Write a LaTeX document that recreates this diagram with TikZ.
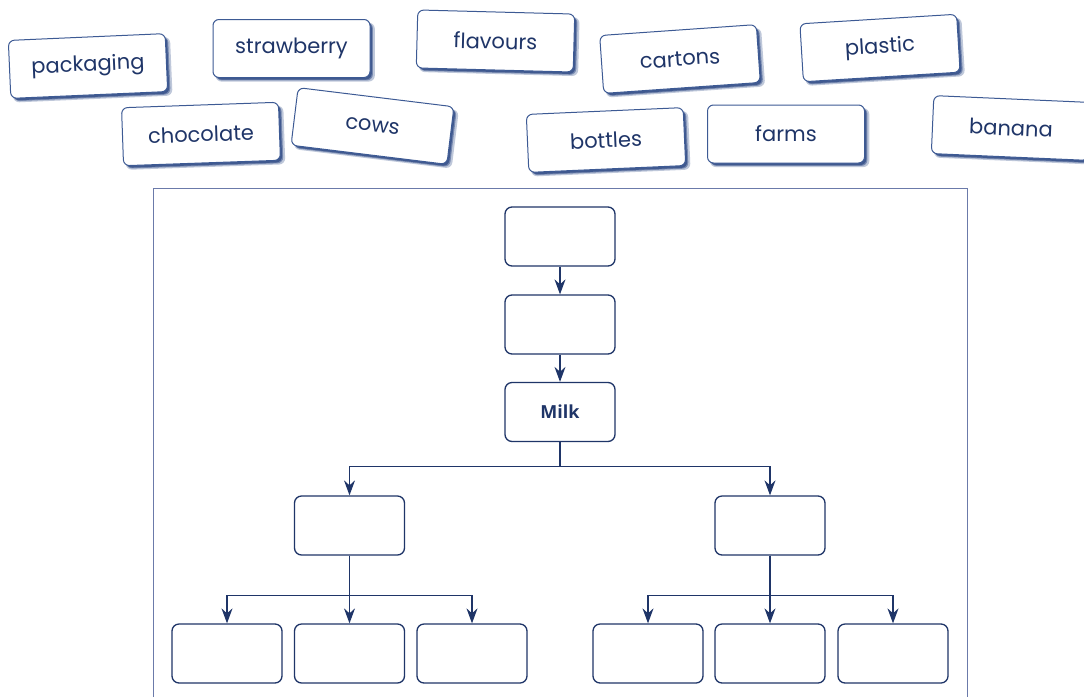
\documentclass[tikz,border=0pt]{standalone}
\usepackage{fontspec}
\setmainfont{Poppins}
\newfontfamily\milkfont{Open Sans}
\usetikzlibrary{arrows.meta,shadows}
\definecolor{navy}{HTML}{1F3568}
\definecolor{cardline}{HTML}{3D5A94}
\definecolor{framec}{HTML}{6B7AAA}
\definecolor{shadowc}{HTML}{2E4A85}
\begin{document}
\begin{tikzpicture}[x=1pt,y=-1pt,
  card/.style={draw=cardline, line width=1pt, fill=white, rounded corners=6pt,
    minimum width=157pt, minimum height=58pt, inner sep=0pt, text=navy,
    font=\fontsize{21}{21}\selectfont,
    general shadow={shadow xshift=3.6pt, shadow yshift=-3.6pt, fill=shadowc, opacity=0.3, shadow scale=1.015},
    general shadow={shadow xshift=2.9pt, shadow yshift=-2.9pt, fill=shadowc, opacity=0.5},
    general shadow={shadow xshift=2.2pt, shadow yshift=-2.2pt, fill=shadowc, opacity=0.75, shadow scale=0.995}},
  tbox/.style={draw=navy, line width=1.3pt, rounded corners=7pt, fill=white,
    minimum width=110pt, minimum height=59pt, inner sep=0pt, text=navy},
  arr/.style={draw=navy, line width=1.3pt, -{Stealth[length=15pt,width=11pt,inset=5pt]}}]
\useasboundingbox (0,0) rectangle (1084,697);
\fill[white] (0,0) rectangle (1084,697);

% cards
\node[card, rotate=2.5] (packaging) at (88,66) {packaging};
\node[card] (strawberry) at (291.5,48.5) {strawberry};
\node[card, rotate=2] (chocolate) at (201,134) {chocolate};
\node[card, rotate=-7] (cows) at (372.5,126) {cows};
\node[card, rotate=-1.5] (flavours) at (495.5,41) {flavours};
\node[card, rotate=4] (cartons) at (680,59) {cartons};
\node[card, rotate=3.5] (plastic) at (880,48) {plastic};
\node[card, rotate=2.5] (bottles) at (606,140) {bottles};
\node[card] (farms) at (786,134) {farms};
\node[card, rotate=-2.5] (banana) at (1011,128) {banana};

% frame
\draw[framec, line width=1pt] (153,697) -- (153,188) -- (967,188) -- (967,697);

% tree
\node[tbox] (b1) at (560,236.5) {};
\node[tbox] (b2) at (560,324.5) {};
\node[tbox, font=\milkfont\bfseries\fontsize{18}{18}\selectfont] (milk) at (560,412) {Milk};
\node[tbox] (l) at (349.5,525.5) {};
\node[tbox] (r) at (770,525.5) {};
\node[tbox] (l1) at (227,653.5) {};
\node[tbox] (l2) at (349.5,653.5) {};
\node[tbox] (l3) at (472,653.5) {};
\node[tbox] (r1) at (648,653.5) {};
\node[tbox] (r2) at (770,653.5) {};
\node[tbox] (r3) at (893,653.5) {};

\draw[arr] (b1) -- (b2);
\draw[arr] (b2) -- (milk);
\draw[arr] (milk.south) -- ++(0,24) -| (l.north);
\draw[arr] (milk.south) -- ++(0,24) -| (r.north);
\draw[arr] (l.south) -- ++(0,40) -| (l1.north);
\draw[arr] (l.south) -- (l2.north);
\draw[arr] (l.south) -- ++(0,40) -| (l3.north);
\draw[arr] (r.south) -- ++(0,40) -| (r1.north);
\draw[arr] (r.south) -- (r2.north);
\draw[arr] (r.south) -- ++(0,40) -| (r3.north);
\end{tikzpicture}
\end{document}
